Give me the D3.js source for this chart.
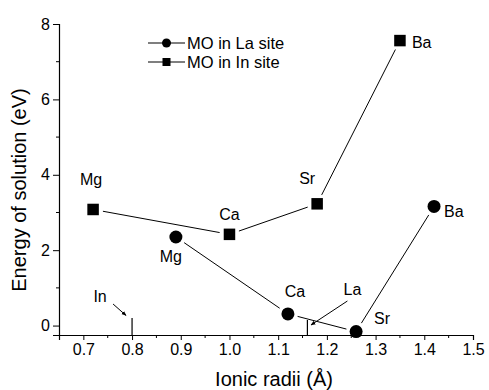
<!DOCTYPE html>
<html>
<head>
<meta charset="utf-8">
<script src="https://cdn.jsdelivr.net/npm/d3@7"></script>
<style>
  body { margin: 0; background: #fff; }
  svg { font-family: "Liberation Sans", Arial, sans-serif; }
</style>
</head>
<body>
<svg id="chart" width="489" height="390"></svg>
<script>

// ionic radii (A) and solution energies (eV)
const laNames = ["Mg", "Ca", "Sr", "Ba"]
const laRadii = [0.89, 1.12, 1.26, 1.42]
const laEnergy = [2.35, 0.31, -0.16, 3.16]

const inNames = ["Mg", "Ca", "Sr", "Ba"]
const inRadii = [0.72, 1.00, 1.18, 1.35]
const inEnergy = [3.08, 2.42, 3.23, 7.56]

// host cation radii marked on the axis
const hostNames = ["In", "La"]
const hostRadii = [0.80, 1.16]

const xTicks = [0.7, 0.8, 0.9, 1.0, 1.1, 1.2, 1.3, 1.4, 1.5]
const yTicks = [0, 2, 4, 6, 8]

const svg = d3.select("#chart")

const m = { left: 59, right: 473, top: 24, bottom: 335 }

const x = d3.scaleLinear().domain([0.65, 1.5]).range([m.left, m.right])
const y = d3.scaleLinear().domain([-0.25, 8]).range([m.bottom, m.top])

// axes
const xAxis = d3.axisBottom(x).tickValues(xTicks).tickFormat(d3.format(".1f")).tickSizeOuter(0).tickSize(5).tickPadding(4)
const yAxis = d3.axisLeft(y).tickValues(yTicks).tickFormat(d3.format("d")).tickSizeOuter(0).tickSize(6).tickPadding(3)

const gx = svg.append("g").attr("transform", `translate(0,${m.bottom})`).call(xAxis)
const gy = svg.append("g").attr("transform", `translate(${m.left},0)`).call(yAxis)

// minor ticks
const xMinor = [0.75, 0.85, 0.95, 1.05, 1.15, 1.25, 1.35, 1.45]
svg.append("g").selectAll("line").data(xMinor).join("line")
    .attr("x1", d => x(d)).attr("x2", d => x(d))
    .attr("y1", m.bottom).attr("y2", m.bottom + 3)
    .attr("stroke", "#000")

const yMinor = [1, 3, 5, 7]
svg.append("g").selectAll("line").data(yMinor).join("line")
    .attr("x1", m.left).attr("x2", m.left - 3)
    .attr("y1", d => y(d)).attr("y2", d => y(d))
    .attr("stroke", "#000")

;[gx, gy].forEach(g => {
    g.select(".domain").attr("stroke", "#000").attr("stroke-width", 1.2)
    g.selectAll(".tick line").attr("stroke", "#000")
    g.selectAll(".tick text").attr("font-size", 16).attr("fill", "#000")
        .style("font-family", "'Liberation Sans', Arial, sans-serif")
})

// axis titles
svg.append("text")
    .attr("x", 274)
    .attr("y", 386)
    .attr("text-anchor", "middle")
    .attr("font-size", 20)
    .text("Ionic radii (Å)")

svg.append("text")
    .attr("transform", "translate(26,190) rotate(-90)")
    .attr("text-anchor", "middle")
    .attr("font-size", 20)
    .text("Energy of solution (eV)")

// segments shortened so they stop short of the markers
function drawSeries(rx, ey) {
    const pts = rx.map((d, i) => [x(d), y(ey[i])])
    const gap = 10
    for (let i = 0; i < pts.length - 1; i++) {
        const [x1, y1] = pts[i], [x2, y2] = pts[i + 1]
        const len = Math.hypot(x2 - x1, y2 - y1)
        const ux = (x2 - x1) / len, uy = (y2 - y1) / len
        svg.append("line")
            .attr("x1", x1 + ux * gap).attr("y1", y1 + uy * gap)
            .attr("x2", x2 - ux * gap).attr("y2", y2 - uy * gap)
            .attr("stroke", "#000").attr("stroke-width", 1)
    }
    return pts
}

const laPts = drawSeries(laRadii, laEnergy)
const inPts = drawSeries(inRadii, inEnergy)

svg.append("g").selectAll("circle").data(laPts).join("circle")
    .attr("cx", d => d[0]).attr("cy", d => d[1]).attr("r", 6.5).attr("fill", "#000")

const sq = 11.5
svg.append("g").selectAll("rect").data(inPts).join("rect")
    .attr("x", d => d[0] - sq / 2).attr("y", d => d[1] - sq / 2)
    .attr("width", sq).attr("height", sq).attr("fill", "#000")

// point labels, offsets in pixels from the marker
const laOffsets = { Mg: [-5, 20, "middle"], Ca: [7, -22, "middle"], Sr: [18, -13, "start"], Ba: [10, 5, "start"] }
const inOffsets = { Mg: [-2, -30, "middle"], Ca: [0, -20, "middle"], Sr: [-10, -25, "middle"], Ba: [12, 2, "start"] }

function labels(names, pts, offs) {
    svg.append("g").selectAll("text").data(names).join("text")
        .attr("x", (d, i) => pts[i][0] + offs[d][0])
        .attr("y", (d, i) => pts[i][1] + offs[d][1])
        .attr("text-anchor", d => offs[d][2])
        .attr("dominant-baseline", "central")
        .attr("font-size", 16)
        .text(d => d)
}
labels(laNames, laPts, laOffsets)
labels(inNames, inPts, inOffsets)

// host ion markers on the x axis with pointer lines
svg.append("defs").append("marker")
    .attr("id", "arr").attr("viewBox", "0 0 10 10").attr("refX", 9).attr("refY", 5)
    .attr("markerWidth", 5).attr("markerHeight", 5).attr("orient", "auto")
    .append("path").attr("d", "M0,1L10,5L0,9Z").attr("fill", "#000")

const hostTick = { In: 17, La: 15 }
const hostLabel = { In: [-32, -39], La: [45, -46] }
const hostPointer = { In: [-19, -31, -6, -19.5], La: [40, -34, 3.6, -10] }

hostNames.forEach((n, i) => {
    const hx = x(hostRadii[i])
    const p = hostPointer[n]
    svg.append("line")
        .attr("x1", hx).attr("x2", hx)
        .attr("y1", m.bottom - hostTick[n]).attr("y2", m.bottom)
        .attr("stroke", "#000").attr("stroke-width", 1.2)
    svg.append("line")
        .attr("x1", hx + p[0]).attr("y1", m.bottom + p[1])
        .attr("x2", hx + p[2]).attr("y2", m.bottom + p[3])
        .attr("stroke", "#000").attr("stroke-width", 1)
        .attr("marker-end", "url(#arr)")
    svg.append("text")
        .attr("x", hx + hostLabel[n][0])
        .attr("y", m.bottom + hostLabel[n][1])
        .attr("text-anchor", "middle")
        .attr("dominant-baseline", "central")
        .attr("font-size", 16)
        .text(n)
})

// legend
const legendRows = [
    { label: "MO in La site", shape: "circle" },
    { label: "MO in In site", shape: "square" }
]
const lg = svg.append("g").attr("transform", "translate(148,43)")
legendRows.forEach((r, i) => {
    const g = lg.append("g").attr("transform", `translate(0,${i * 19})`)
    g.append("line").attr("x1", 0).attr("x2", 37).attr("stroke", "#000").attr("stroke-width", 1.2)
    if (r.shape === "circle") {
        g.append("circle").attr("cx", 18.5).attr("r", 4.5).attr("fill", "#000")
    } else {
        g.append("rect").attr("x", 14.5).attr("y", -4).attr("width", 8).attr("height", 8).attr("fill", "#000")
    }
    g.append("text").attr("x", 39).attr("dominant-baseline", "central").attr("font-size", 16.5).text(r.label)
})

</script>
</body>
</html>
